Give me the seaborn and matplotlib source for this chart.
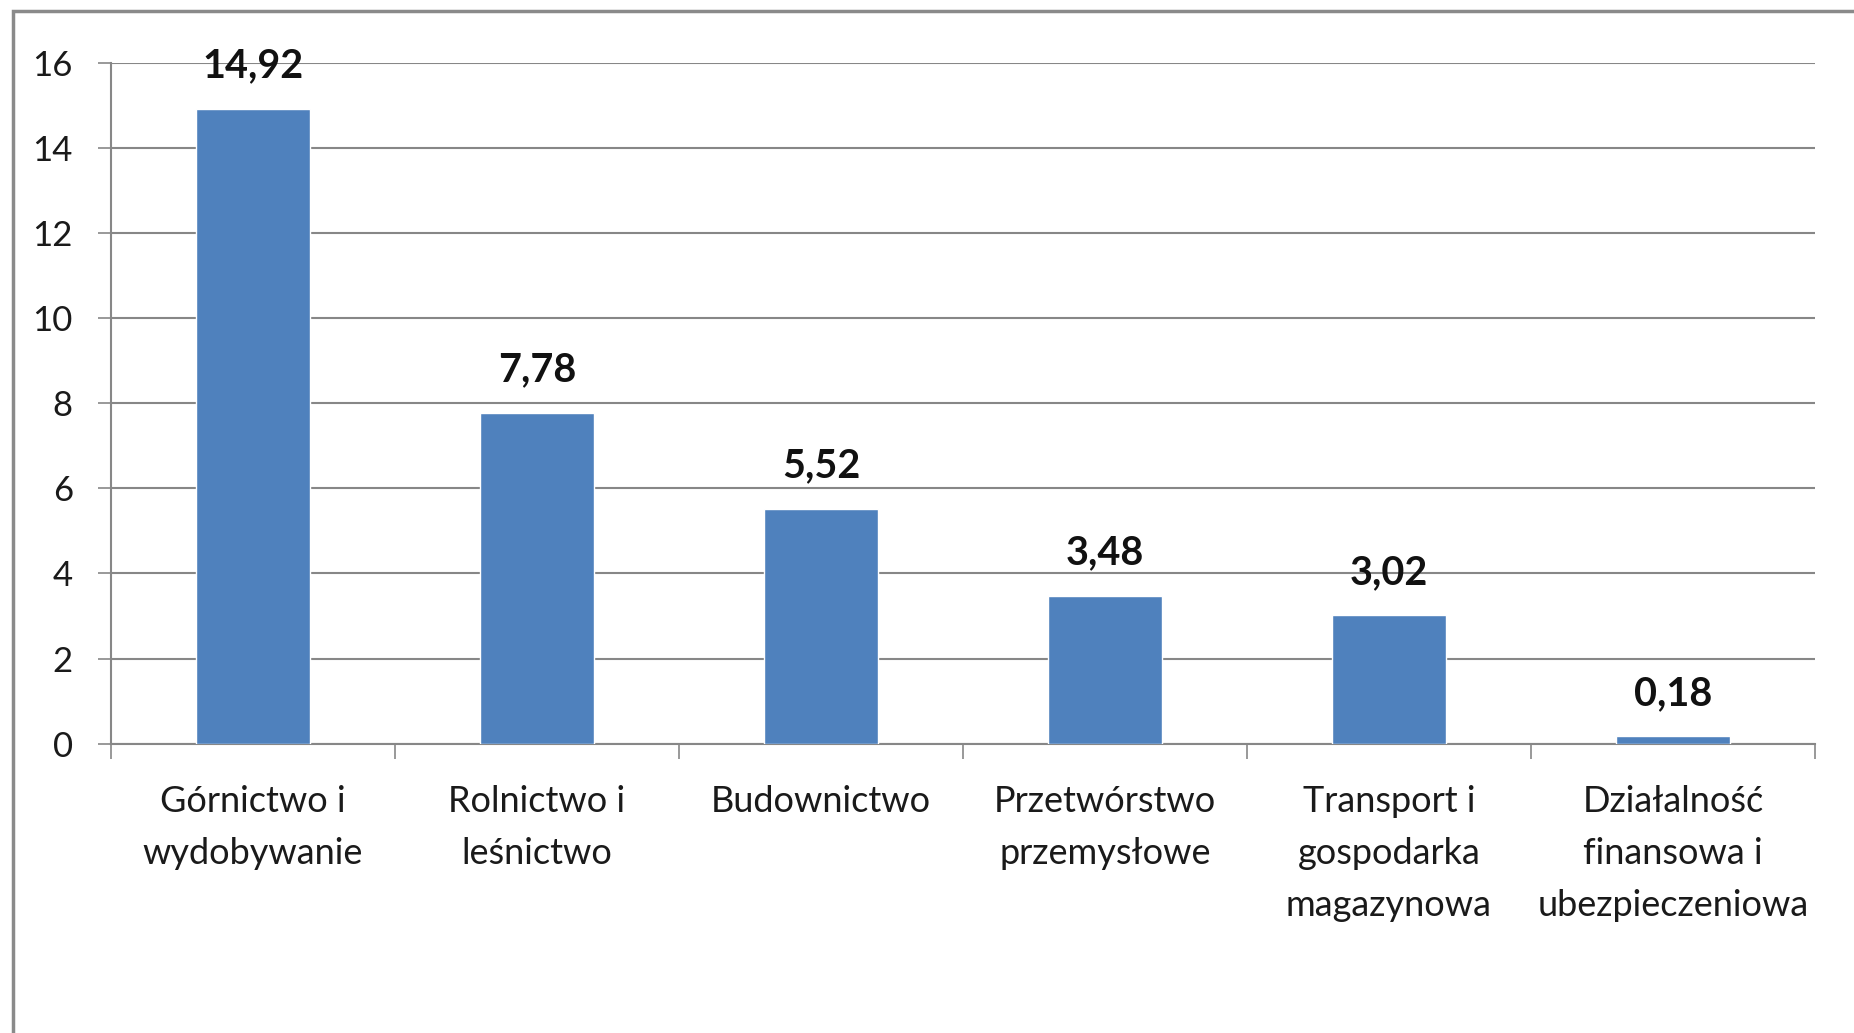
import matplotlib
matplotlib.use("Agg")
import matplotlib.pyplot as plt
import seaborn as sns
import numpy as np
from matplotlib.patches import Rectangle

categories = ["Górnictwo i\nwydobywanie", "Rolnictwo i\nleśnictwo", "Budownictwo",
              "Przetwórstwo\nprzemysłowe", "Transport i\ngospodarka\nmagazynowa",
              "Działalność\nfinansowa i\nubezpieczeniowa"]
values = [14.92, 7.78, 5.52, 3.48, 3.02, 0.18]
y_ticks = [0, 2, 4, 6, 8, 10, 12, 14, 16]

sns.set_theme(style="white")
plt.rcParams['font.family'] = ['Lato', 'DejaVu Sans']

W, H = 1854, 1033
fig = plt.figure(figsize=(W / 100, H / 100), dpi=100)
ax = fig.add_axes([111 / W, 1 - 743.7 / H, (1815 - 111) / W, (743.7 - 62.7) / H])

grid_c = "#878787"
sns.barplot(x=list(range(len(categories))), y=values, color="#4F81BD", saturation=1,
            width=0.4, ax=ax, zorder=3)

ax.set_xlim(-0.5, len(categories) - 0.5)
ax.set_ylim(0, 16)
ax.set_yticks(y_ticks)
ax.set_yticklabels([str(t) for t in y_ticks])
ax.yaxis.grid(True, color=grid_c, linewidth=1.5, zorder=0)
ax.set_axisbelow(True)

ax.set_xticks(range(len(categories)))
ax.set_xticklabels(categories, linespacing=1.7)
ax.set_xticks(np.arange(-0.5, len(categories), 1.0), minor=True)
ax.tick_params(axis='x', which='major', length=0, pad=30, labelsize=26, colors="#1a1a1a")
ax.tick_params(axis='x', which='minor', length=10.5, width=1.2, color=grid_c, direction='out', bottom=True)
ax.tick_params(axis='y', which='major', length=9.5, width=1.2, color=grid_c, pad=18,
               labelsize=25, labelcolor="#1a1a1a", left=True, direction='out')
for lab in ax.get_xticklabels():
    lab.set_verticalalignment('top')

for s in ['top', 'right']:
    ax.spines[s].set_visible(False)
for s in ['left', 'bottom']:
    ax.spines[s].set_color(grid_c)
    ax.spines[s].set_linewidth(1.5)

for i, v in enumerate(values):
    ax.annotate(f"{v:.2f}".replace(".", ","), xy=(i, v), xytext=(0, 22.5),
                textcoords='offset points', ha='center', va='baseline',
                fontsize=28.5, fontweight='bold', color="#111111")

ax.set_xlabel("")
ax.set_ylabel("")

# outer chart frame
fig.patches.append(Rectangle((13 / W, -0.1), 1.2, 1 - 11 / H + 0.1, transform=fig.transFigure,
                             fill=False, edgecolor="#8a8a8a", linewidth=2.5))

fig.savefig("out.png", dpi=100, facecolor="white")
